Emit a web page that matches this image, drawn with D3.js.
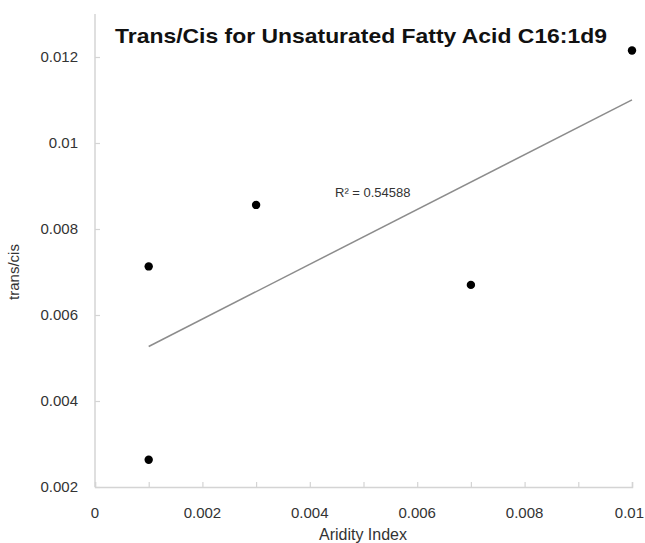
<!DOCTYPE html>
<html><head><meta charset="utf-8">
<script src="https://cdn.jsdelivr.net/npm/d3@7"></script>
<style>body{margin:0;background:#fff}svg{display:block}</style>
</head><body>
<script>
const aridity = [0.001, 0.001, 0.003, 0.007, 0.010];
const transCis = [0.00713, 0.002635, 0.00856, 0.00670, 0.01215];
const xTicks = [0, 0.002, 0.004, 0.006, 0.008, 0.01];
const xMinorTicks = [0.001, 0.003, 0.005, 0.007, 0.009];
const yTicks = [0.002, 0.004, 0.006, 0.008, 0.01, 0.012];
const titleText = "Trans/Cis for Unsaturated Fatty Acid C16:1d9";
const r2Label = "R² = 0.54588";

const W = 645, H = 543;
const svg = d3.select("body").append("svg").attr("width", W).attr("height", H);
const font = "'Liberation Sans', Arial, sans-serif";

const x = d3.scaleLinear().domain([0, 0.01]).range([95, 632]);
const y = d3.scaleLinear().domain([0.002, 0.012]).range([487, 57]);

// axes
const axisColor = "#d4d4d4";
const gx = svg.append("g").attr("transform", "translate(0,487)")
  .call(d3.axisBottom(x).tickValues(xTicks.concat(xMinorTicks)).tickSize(-5).tickFormat(() => ""));
gx.select(".domain").attr("stroke", axisColor).attr("stroke-width", 1.5);
gx.selectAll(".tick line").attr("stroke", axisColor).attr("stroke-width", 1.2);

const xl = svg.append("g").selectAll("text").data(xTicks).join("text")
  .attr("x", d => x(d)).attr("y", 518).attr("text-anchor", "middle")
  .attr("font-family", font).attr("font-size", 15).attr("fill", "#333")
  .text(d => d === 0 ? "0" : String(+d.toFixed(3)));
// keep the last label inside the picture
xl.each(function(d) {
  const w = this.getComputedTextLength();
  const cx = Math.min(x(d), W - 1 - w / 2);
  d3.select(this).attr("x", cx);
});

const gy = svg.append("g").attr("transform", "translate(95,0)")
  .call(d3.axisLeft(y).tickValues(yTicks).tickSize(-5).tickFormat(() => ""));
gy.select(".domain").remove();
gy.selectAll(".tick line").attr("stroke", axisColor).attr("stroke-width", 1.2);
svg.append("line").attr("x1", 95).attr("x2", 95).attr("y1", 14).attr("y2", 487)
  .attr("stroke", axisColor).attr("stroke-width", 1.5);

svg.append("g").selectAll("text").data(yTicks).join("text")
  .attr("x", 78).attr("y", d => y(d) + 5).attr("text-anchor", "end")
  .attr("font-family", font).attr("font-size", 15).attr("fill", "#333")
  .text(d => String(+d.toFixed(3)));

// trendline (least squares)
const mx = d3.mean(aridity), my = d3.mean(transCis);
let sxy = 0, sxx = 0;
aridity.forEach((v, i) => { sxy += (v - mx) * (transCis[i] - my); sxx += (v - mx) ** 2; });
const slope = sxy / sxx, icpt = my - slope * mx;
const x0 = d3.min(aridity), x1 = d3.max(aridity);
svg.append("line")
  .attr("x1", x(x0)).attr("y1", y(icpt + slope * x0))
  .attr("x2", x(x1)).attr("y2", y(icpt + slope * x1))
  .attr("stroke", "#8c8c8c").attr("stroke-width", 1.5);

// points
svg.append("g").selectAll("circle").data(aridity).join("circle")
  .attr("cx", d => x(d)).attr("cy", (d, i) => y(transCis[i])).attr("r", 4.2).attr("fill", "#000");

// R2 label
svg.append("text").attr("x", 335).attr("y", 197)
  .attr("font-family", font).attr("font-size", 13).attr("fill", "#333").text(r2Label);

// title
svg.append("text").attr("x", 115).attr("y", 43)
  .attr("font-family", font).attr("font-size", 21).attr("font-weight", "bold").attr("fill", "#111")
  .attr("textLength", 492).attr("lengthAdjust", "spacingAndGlyphs").text(titleText);

// axis titles
svg.append("text").attr("x", 363).attr("y", 540).attr("text-anchor", "middle")
  .attr("font-family", font).attr("font-size", 16).attr("fill", "#333").text("Aridity Index");
svg.append("text").attr("transform", "translate(19,272) rotate(-90)").attr("text-anchor", "middle")
  .attr("font-family", font).attr("font-size", 15).attr("fill", "#333").text("trans/cis");
</script>
</body></html>
